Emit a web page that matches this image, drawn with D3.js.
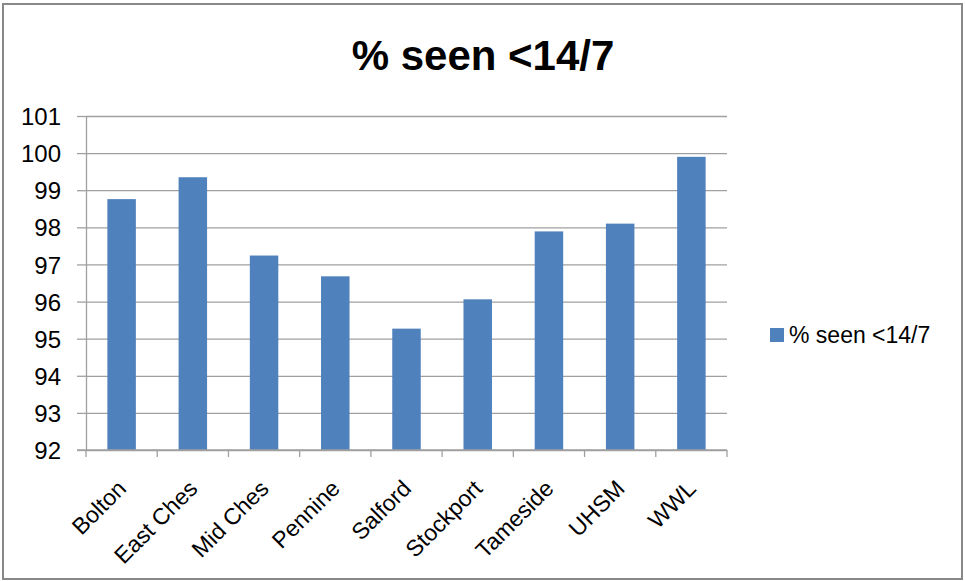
<!DOCTYPE html>
<html>
<head>
<meta charset="utf-8">
<script src="https://cdn.jsdelivr.net/npm/d3@7"></script>
<style>
  body { margin: 0; background: #fff; }
  text { font-family: "Liberation Sans", Arial, sans-serif; fill: #000; }
</style>
</head>
<body>
<script>
const categories = ['Bolton', 'East Ches', 'Mid Ches', 'Pennine', 'Salford', 'Stockport', 'Tameside', 'UHSM', 'WWL'];
const seenValues = [98.76, 99.35, 97.24, 96.68, 95.27, 96.06, 97.89, 98.10, 99.90];
const yTicks = [92, 93, 94, 95, 96, 97, 98, 99, 100, 101];
const seriesName = '% seen <14/7';

const width = 965;
const height = 581;
const plotLeft = 86, plotRight = 727, plotTop = 116, plotBottom = 450;

const svg = d3.select('body').append('svg')
  .attr('width', width)
  .attr('height', height);

// outer frame
svg.append('rect')
  .attr('x', 3).attr('y', 4)
  .attr('width', 959).attr('height', 575)
  .attr('fill', '#fff')
  .attr('stroke', '#888')
  .attr('stroke-width', 2);

const x = d3.scaleBand()
  .domain(categories)
  .range([plotLeft, plotRight])
  .paddingInner(0.6)
  .paddingOuter(0.3);

const y = d3.scaleLinear()
  .domain([92, 101])
  .range([plotBottom, plotTop]);

// gridlines
svg.append('g')
  .attr('transform', `translate(${plotLeft},0)`)
  .call(d3.axisLeft(y).tickValues(yTicks).tickSize(-(plotRight - plotLeft)).tickFormat(''))
  .call(g => g.select('.domain').remove())
  .selectAll('line')
  .attr('stroke', '#a0a0a0')
  .attr('stroke-width', 1.3);

// y axis
svg.append('g')
  .attr('transform', `translate(${plotLeft},0)`)
  .call(d3.axisLeft(y).tickValues(yTicks).tickSize(9).tickSizeOuter(0).tickPadding(16))
  .call(g => g.selectAll('line, .domain').attr('stroke', '#a0a0a0').attr('stroke-width', 1.3))
  .selectAll('text')
  .attr('font-size', 24)
  .attr('fill', '#111')
  .attr('dy', '0.36em');

// bars
svg.selectAll('rect.bar')
  .data(categories)
  .enter()
  .append('rect')
  .attr('class', 'bar')
  .attr('x', d => x(d))
  .attr('y', (d, i) => y(seenValues[i]))
  .attr('width', x.bandwidth())
  .attr('height', (d, i) => y(92) - y(seenValues[i]))
  .attr('fill', '#4f81bd');

// x axis line + boundary ticks
const step = x.step();
const xAxis = svg.append('g').attr('transform', `translate(0,${plotBottom})`);
xAxis.append('line')
  .attr('x1', plotLeft - 9).attr('x2', plotRight)
  .attr('stroke', '#a0a0a0').attr('stroke-width', 1.3);
const bounds = categories.map(d => x(d) - step * 0.3).concat([plotRight]);
xAxis.selectAll('line.tick')
  .data(bounds)
  .enter()
  .append('line')
  .attr('class', 'tick')
  .attr('x1', d => d).attr('x2', d => d)
  .attr('y1', 0).attr('y2', 7)
  .attr('stroke', '#a0a0a0').attr('stroke-width', 1.3);

// x labels (axisBottom already centres each tick in its band)
svg.append('g')
  .attr('transform', `translate(0,${plotBottom})`)
  .call(d3.axisBottom(x).tickSize(0).tickFormat(d => d))
  .call(g => g.select('.domain').remove())
  .selectAll('text')
  .attr('font-size', 23)
  .attr('fill', '#111')
  .attr('text-anchor', 'end')
  .attr('dy', 0)
  .attr('y', 0)
  .attr('transform', 'translate(6,40) rotate(-45)');

// title
svg.append('text')
  .attr('x', 483)
  .attr('y', 70)
  .attr('text-anchor', 'middle')
  .attr('font-size', 42)
  .attr('font-weight', 'bold')
  .text(seriesName);

// legend
const legend = svg.append('g').attr('transform', 'translate(770,328)');
legend.append('rect')
  .attr('width', 14).attr('height', 14)
  .attr('fill', '#4f81bd');
legend.append('text')
  .attr('x', 19)
  .attr('y', 15)
  .attr('font-size', 23)
  .attr('fill', '#111')
  .text(seriesName);
</script>
</body>
</html>
